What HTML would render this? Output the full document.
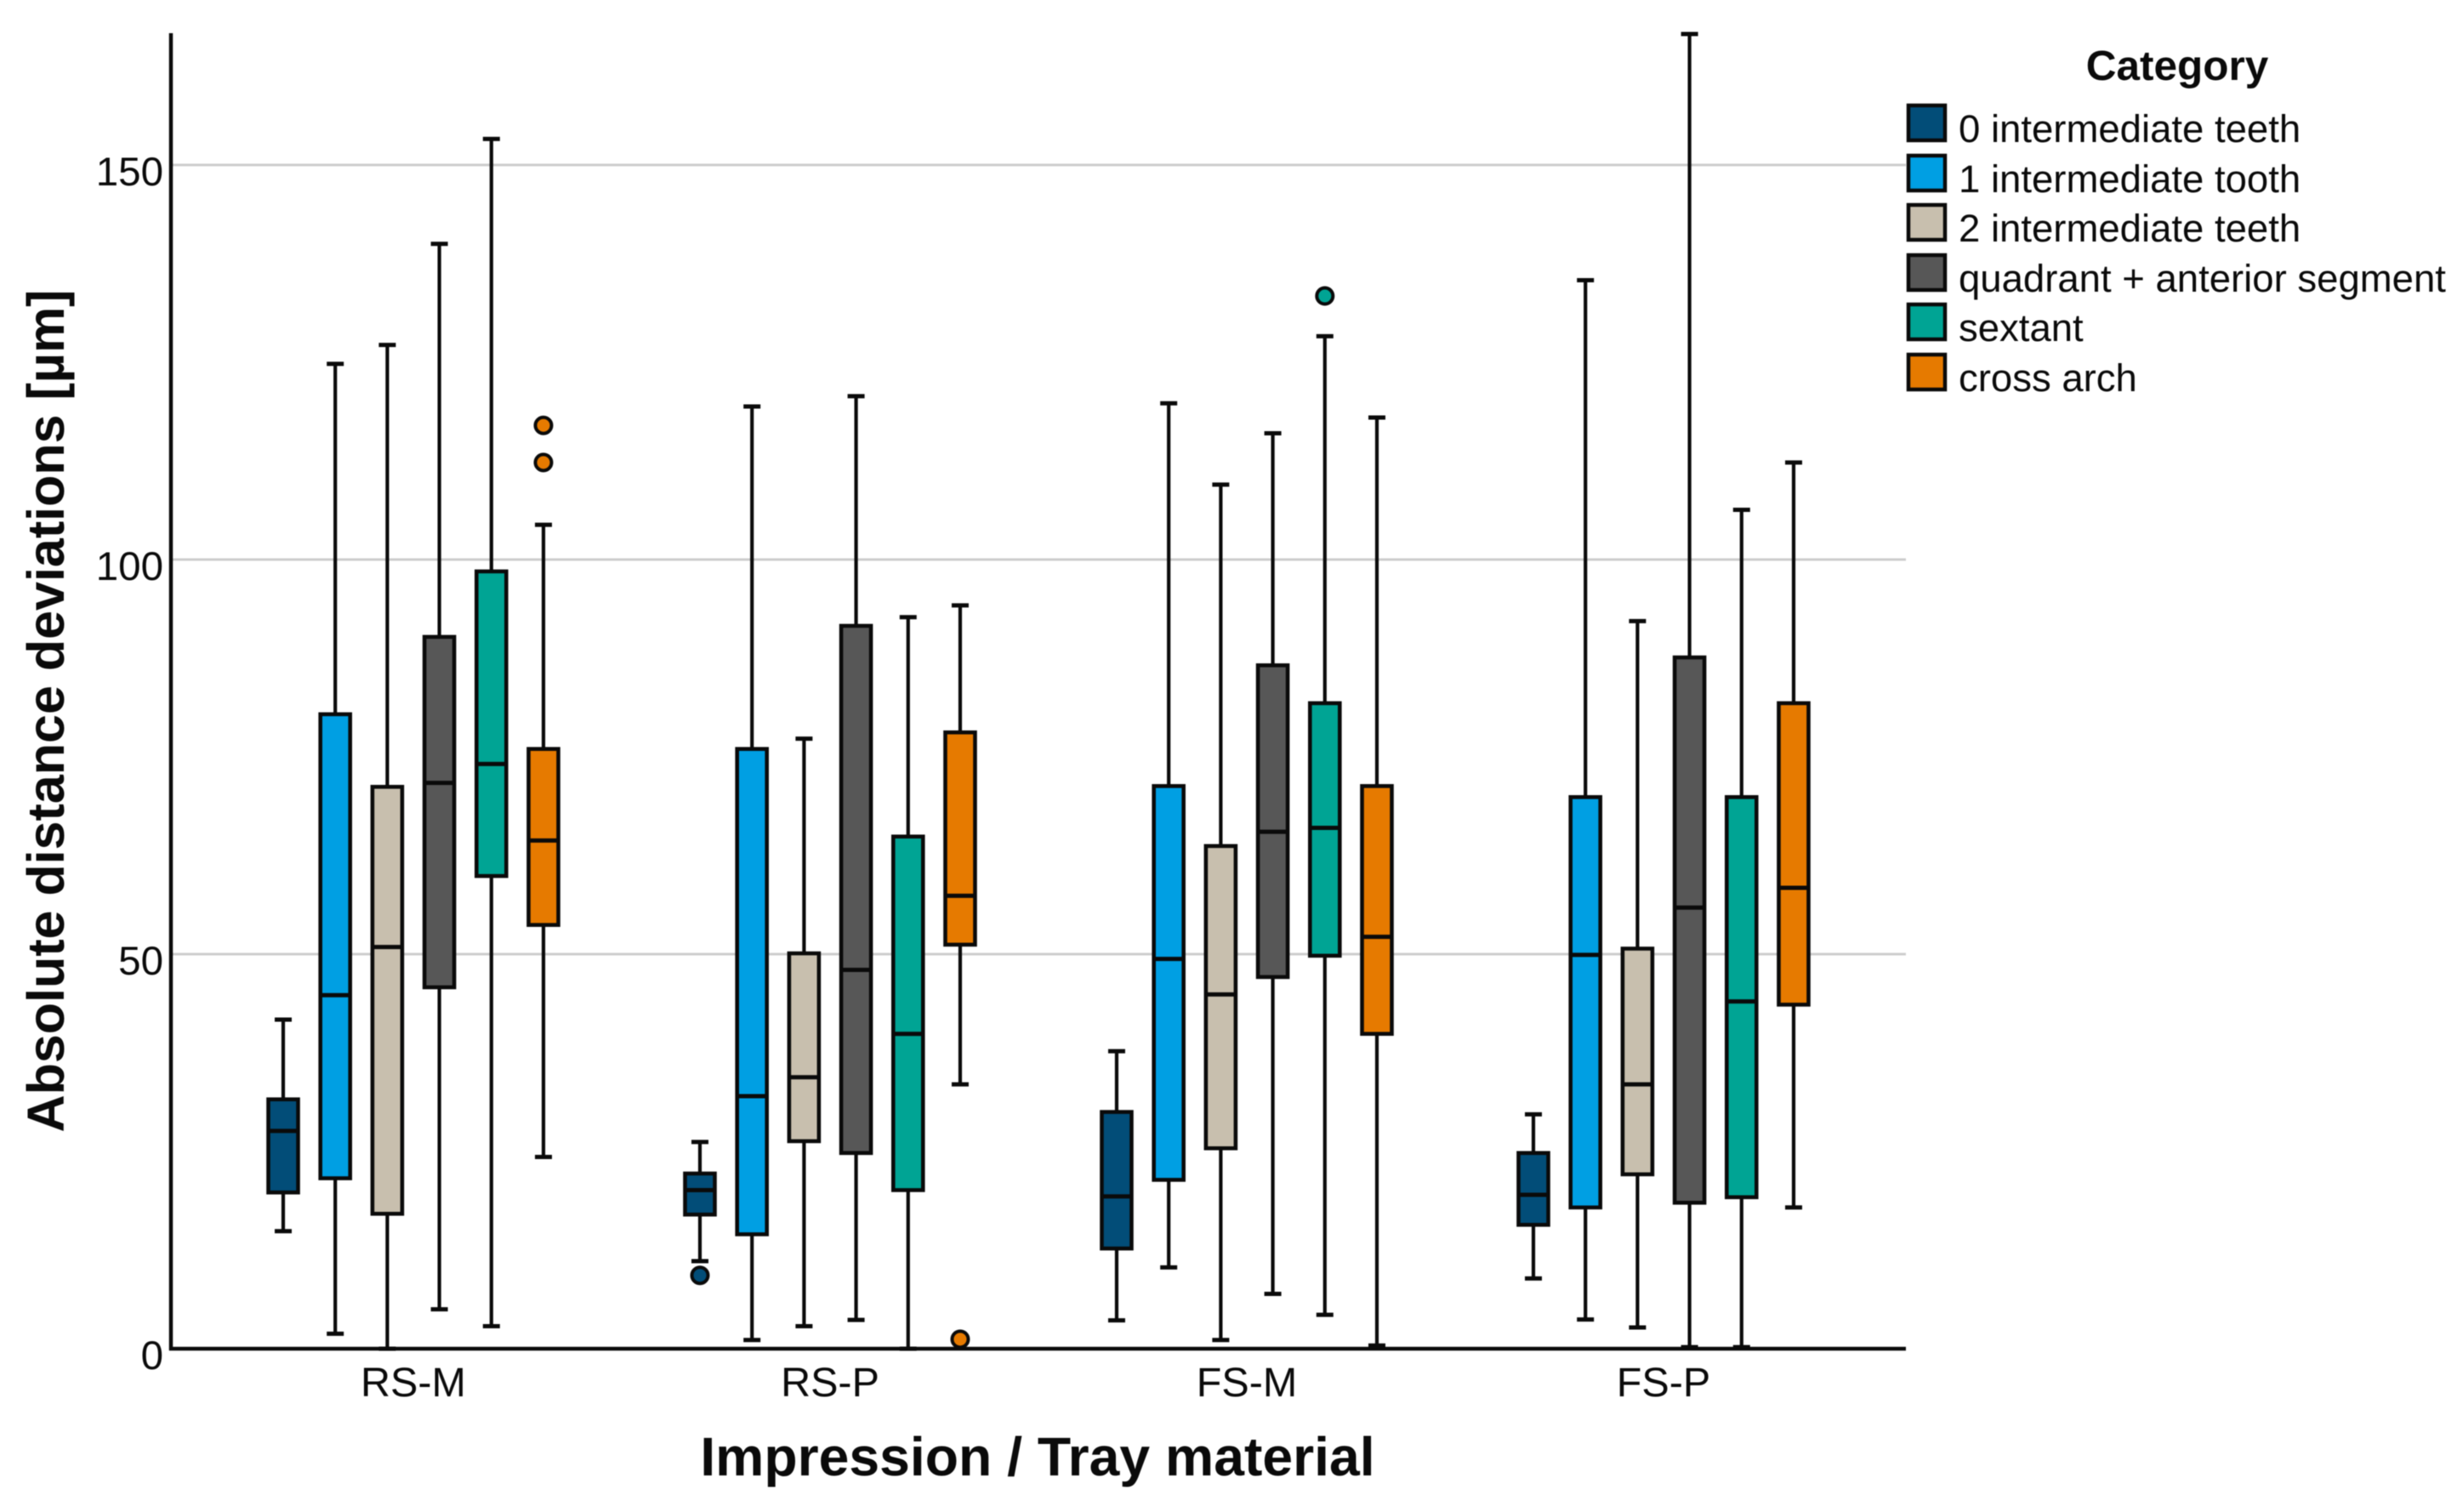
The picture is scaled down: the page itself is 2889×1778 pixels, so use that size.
<!DOCTYPE html>
<html lang="en">
<head>
<meta charset="utf-8">
<title>Absolute distance deviations box plot</title>
<style>
html,body{margin:0;padding:0;background:#fff}
svg{display:block;filter:blur(0.6px)}
text{font-family:"Liberation Sans",Arial,sans-serif;fill:#0a0a0a}
</style>
</head>
<body>
<svg id="chart" xmlns="http://www.w3.org/2000/svg" width="2889" height="1778" viewBox="0 0 2889 1778">
  <rect x="0" y="0" width="2889" height="1778" fill="#ffffff"/>
  <g id="grid"></g>
  <g id="marks"></g>
  <g id="axes"></g>
  <text x="75" y="836" text-anchor="middle" transform="rotate(-90 75 836)" font-size="61" font-weight="700">Absolute distance deviations [µm]</text>
  <text x="1220" y="1735" text-anchor="middle" font-size="64.3" font-weight="700">Impression / Tray material</text>
  <g>
    <text x="2560" y="94" text-anchor="middle" font-size="49.5" font-weight="700">Category</text>
    <g>
      <rect x="2244" y="124" width="43" height="41" fill="#024d78" stroke="#0a0a0a" stroke-width="4.5"/>
      <text x="2303" y="167" font-size="45.5">0 intermediate teeth</text>
    </g>
    <g>
      <rect x="2244" y="183" width="43" height="41" fill="#009fe3" stroke="#0a0a0a" stroke-width="4.5"/>
      <text x="2303" y="226" font-size="45.5">1 intermediate tooth</text>
    </g>
    <g>
      <rect x="2244" y="241" width="43" height="41" fill="#c8bfae" stroke="#0a0a0a" stroke-width="4.5"/>
      <text x="2303" y="284" font-size="45.5">2 intermediate teeth</text>
    </g>
    <g>
      <rect x="2244" y="300" width="43" height="41" fill="#575757" stroke="#0a0a0a" stroke-width="4.5"/>
      <text x="2303" y="343" font-size="45.5">quadrant + anterior segment</text>
    </g>
    <g>
      <rect x="2244" y="358" width="43" height="41" fill="#00a494" stroke="#0a0a0a" stroke-width="4.5"/>
      <text x="2303" y="401" font-size="45.5">sextant</text>
    </g>
    <g>
      <rect x="2244" y="417" width="43" height="41" fill="#e67a00" stroke="#0a0a0a" stroke-width="4.5"/>
      <text x="2303" y="460" font-size="45.5">cross arch</text>
    </g>
  </g>
</svg>
<script>
const categories = ["RS-M", "RS-P", "FS-M", "FS-P"];
const seriesNames = ["0 intermediate teeth", "1 intermediate tooth", "2 intermediate teeth", "quadrant + anterior segment", "sextant", "cross arch"];
const seriesColors = ["#024d78", "#009fe3", "#c8bfae", "#575757", "#00a494", "#e67a00"];
const yTickValues = [0, 50, 100, 150];

/* Each row is a category, each column a series */
const whiskerHigh = [
  [41.7, 124.8, 127.2, 140.0, 153.3, 104.4],
  [26.2, 119.4, 77.3, 120.7, 92.7, 94.2],
  [37.7, 119.8, 109.5, 116.0, 128.3, 118.0],
  [29.7, 135.4, 92.2, 166.6, 106.3, 112.3]
];
const q3Values = [
  [31.6, 80.4, 71.2, 90.2, 98.5, 76.0],
  [22.2, 76.0, 50.1, 91.6, 64.9, 78.1],
  [30.0, 71.3, 63.7, 86.6, 81.8, 71.3],
  [24.8, 69.9, 50.7, 87.6, 69.9, 81.8]
];
const medianValues = [
  [27.6, 44.8, 50.9, 71.7, 74.1, 64.4],
  [20.1, 32.0, 34.4, 48.0, 39.9, 57.4],
  [19.3, 49.4, 44.9, 65.5, 66.0, 52.2],
  [19.5, 49.9, 33.5, 55.9, 44.0, 58.4]
];
const q1Values = [
  [19.8, 21.6, 17.1, 45.8, 59.9, 53.7],
  [17.0, 14.5, 26.3, 24.8, 20.1, 51.2],
  [12.7, 21.4, 25.4, 47.1, 49.8, 39.9],
  [15.7, 17.9, 22.1, 18.5, 19.2, 43.6]
];
const whiskerLow = [
  [14.9, 1.9, 0, 5.0, 2.85, 24.3],
  [11.1, 1.1, 2.85, 3.65, 0, 33.5],
  [3.6, 10.3, 1.1, 6.95, 4.3, 0.4],
  [8.9, 3.7, 2.7, 0.2, 0.2, 17.9]
];
const outlierCategory = [0, 0, 1, 1, 2];
const outlierSeries = [5, 5, 0, 5, 4];
const outlierValues = [117.0, 112.3, 9.3, 1.2, 133.4];

const NS = "http://www.w3.org/2000/svg";
const plotLeft = 201, plotRight = 2241, plotTop = 39, plotBottom = 1586;
const unitHeight = 9.28, firstGroup = 486, groupStep = 490, seriesStep = 61.2;
const boxWidth = 35, capWidth = 20, ink = "#0a0a0a";

function yScale(v) { return plotBottom - v * unitHeight; }
function xScale(cat, ser) {
  return firstGroup + cat * groupStep + (ser - (seriesNames.length - 1) / 2) * seriesStep;
}
function mk(parent, tag, attrs) {
  const el = document.createElementNS(NS, tag);
  for (const k in attrs) el.setAttribute(k, attrs[k]);
  parent.appendChild(el);
  return el;
}
function slug(s) { return s.toLowerCase().replace(/[^a-z0-9]+/g, "-"); }

const gridG = document.getElementById("grid");
const marksG = document.getElementById("marks");
const axesG = document.getElementById("axes");

yTickValues.forEach(function (t) {
  if (t > 0) {
    const gl = mk(gridG, "line", { x1: plotLeft, x2: plotRight, y1: yScale(t), y2: yScale(t), stroke: "#cdcdcd", "stroke-width": 3 });
    
    
  }
  const lb = mk(axesG, "text", { x: 192, y: yScale(t) + 24, "text-anchor": "end", "font-size": 47.5 });
  lb.textContent = String(t);
  
  
});

categories.forEach(function (name, c) {
  const lb = mk(axesG, "text", { x: firstGroup + c * groupStep, y: 1642, "text-anchor": "middle", "font-size": 48.5 });
  lb.textContent = name;
  
  

  seriesNames.forEach(function (sName, s) {
    const cx = xScale(c, s);
    const g = mk(marksG, "g", {});
    
    

    const whisker = mk(g, "line", { x1: cx, x2: cx, y1: yScale(whiskerHigh[c][s]), y2: yScale(whiskerLow[c][s]), stroke: ink, "stroke-width": 4.2 });
    
    

    const capHigh = mk(g, "line", { x1: cx - capWidth / 2, x2: cx + capWidth / 2, y1: yScale(whiskerHigh[c][s]), y2: yScale(whiskerHigh[c][s]), stroke: ink, "stroke-width": 5 });
    
    

    const capLow = mk(g, "line", { x1: cx - capWidth / 2, x2: cx + capWidth / 2, y1: yScale(whiskerLow[c][s]), y2: yScale(whiskerLow[c][s]), stroke: ink, "stroke-width": 5 });
    
    

    const box = mk(g, "rect", { x: cx - boxWidth / 2, y: yScale(q3Values[c][s]), width: boxWidth, height: yScale(q1Values[c][s]) - yScale(q3Values[c][s]), fill: seriesColors[s], stroke: ink, "stroke-width": 4.6 });
    
    

    const med = mk(g, "line", { x1: cx - boxWidth / 2, x2: cx + boxWidth / 2, y1: yScale(medianValues[c][s]), y2: yScale(medianValues[c][s]), stroke: ink, "stroke-width": 5 });
    
    
  });
});

outlierValues.forEach(function (v, i) {
  const c = outlierCategory[i], s = outlierSeries[i];
  const dot = mk(marksG, "circle", { cx: xScale(c, s), cy: yScale(v), r: 9.5, fill: seriesColors[s], stroke: ink, "stroke-width": 4 });
  
  
});

const yAxis = mk(axesG, "line", { x1: plotLeft, x2: plotLeft, y1: plotTop, y2: plotBottom + 2, stroke: ink, "stroke-width": 4.5 });



const xAxis = mk(axesG, "line", { x1: plotLeft - 2, x2: plotRight, y1: plotBottom, y2: plotBottom, stroke: ink, "stroke-width": 4.5 });


</script>
</body>
</html>
